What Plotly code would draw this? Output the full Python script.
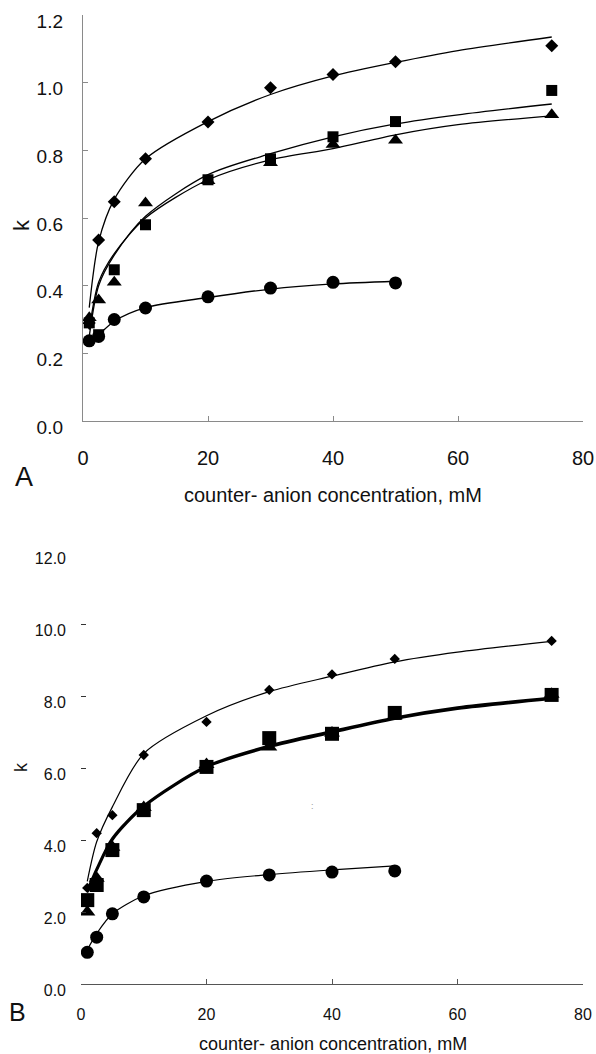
import plotly.graph_objects as go

W, H = 596, 1054

# ---------------- Panel A data ----------------
conc_A = [1, 2.5, 5, 10, 20, 30, 40, 50, 75]
conc_A_circ = [1, 2.5, 5, 10, 20, 30, 40, 50]
A_diamond = [0.29, 0.535, 0.648, 0.775, 0.884, 0.985, 1.024, 1.062, 1.109]
A_square = [0.29, 0.255, 0.447, 0.58, 0.713, 0.775, 0.84, 0.885, 0.977]
A_triangle = [0.305, 0.358, 0.41, 0.644, 0.71, 0.763, 0.817, 0.83, 0.905]
A_circle = [0.237, 0.25, 0.30, 0.334, 0.367, 0.393, 0.41, 0.408]

fit_x = [1, 2.5, 5, 10, 20, 30, 40, 50, 60, 75]
fit_x_circ = [1, 2.5, 5, 10, 20, 30, 40, 50]
A_fit_diamond = [0.335, 0.53, 0.655, 0.775, 0.885, 0.965, 1.02, 1.06, 1.095, 1.135]
A_fit_square = [0.25, 0.40, 0.49, 0.605, 0.728, 0.79, 0.84, 0.878, 0.905, 0.937]
A_fit_triangle = [0.27, 0.41, 0.495, 0.60, 0.713, 0.772, 0.805, 0.846, 0.876, 0.902]
A_fit_circle = [0.235, 0.255, 0.295, 0.335, 0.365, 0.39, 0.405, 0.413]

# ---------------- Panel B data ----------------
conc_B = [1, 2.5, 5, 10, 20, 30, 40, 50, 75]
conc_B_circ = [1, 2.5, 5, 10, 20, 30, 40, 50]
B_diamond = [2.67, 4.19, 4.69, 6.36, 7.28, 8.17, 8.6, 9.03, 9.53]
B_square = [2.33, 2.75, 3.72, 4.83, 6.03, 6.83, 6.95, 7.53, 8.03]
B_triangle = [2.0, 2.94, 3.8, 4.9, 6.1, 6.58, 6.97, 7.45, 8.05]
B_circle = [0.88, 1.3, 1.95, 2.42, 2.86, 3.03, 3.11, 3.14]

B_fit_diamond = [2.85, 3.95, 4.92, 6.4, 7.45, 8.12, 8.55, 8.95, 9.22, 9.52]
B_fit_square = [2.6, 3.2, 4.05, 4.95, 6.05, 6.62, 7.02, 7.4, 7.68, 7.95]
B_fit_triangle = [2.55, 3.15, 4.0, 4.92, 6.02, 6.58, 6.98, 7.36, 7.64, 7.92]
B_fit_circle = [0.95, 1.4, 1.95, 2.45, 2.85, 3.04, 3.17, 3.28]

x_ticks = [0, 20, 40, 60, 80]
A_y_ticks = [0.0, 0.2, 0.4, 0.6, 0.8, 1.0, 1.2]
B_y_ticks = [0.0, 2.0, 4.0, 6.0, 8.0, 10.0, 12.0]
x_title = "counter- anion concentration, mM"
y_title = "k"

FONT = "Liberation Sans, Arial, sans-serif"
INK = "#111111"


def px(x):
    return x / W


def py(y):
    return 1 - y / H


fig = go.Figure()


def line(x, y, xa, ya, w):
    fig.add_trace(go.Scatter(x=x, y=y, mode="lines", xaxis=xa, yaxis=ya,
                             line=dict(color="black", width=w, shape="spline", smoothing=0.8),
                             hoverinfo="skip", showlegend=False))


def pts(x, y, xa, ya, sym, size):
    fig.add_trace(go.Scatter(x=x, y=y, mode="markers", xaxis=xa, yaxis=ya,
                             marker=dict(symbol=sym, size=size, color="black", line=dict(width=0)),
                             showlegend=False))


# Panel A
line(fit_x, A_fit_diamond, "x", "y", 1.3)
line(fit_x, A_fit_square, "x", "y", 1.3)
line(fit_x, A_fit_triangle, "x", "y", 1.3)
line(fit_x_circ, A_fit_circle, "x", "y", 1.3)
pts(conc_A, A_square, "x", "y", "square", 11)
pts(conc_A, A_triangle, "x", "y", "triangle-up", 13)
pts(conc_A, A_diamond, "x", "y", "diamond", 10)
pts(conc_A_circ, A_circle, "x", "y", "circle", 13)

# Panel B
line(fit_x, B_fit_diamond, "x2", "y2", 1.2)
line(fit_x, B_fit_square, "x2", "y2", 2.4)
line(fit_x, B_fit_triangle, "x2", "y2", 2.2)
line(fit_x_circ, B_fit_circle, "x2", "y2", 1.2)
pts(conc_B, B_square, "x2", "y2", "square", 14)
pts(conc_B, B_triangle, "x2", "y2", "triangle-up", 14)
pts(conc_B, B_diamond, "x2", "y2", "diamond", 8)
pts(conc_B_circ, B_circle, "x2", "y2", "circle", 13)

common_x = dict(range=[0, 80], tickvals=x_ticks, ticktext=[str(v) for v in x_ticks],
                showgrid=False, zeroline=False, showline=True, ticks="inside", ticklen=5,
                fixedrange=True, automargin=False, ticklabeloverflow="allow")

fig.update_layout(
    width=W, height=H,
    margin=dict(l=0, r=0, t=0, b=0),
    paper_bgcolor="white", plot_bgcolor="white",
    font=dict(family=FONT, color=INK),
    hovermode=False,
    xaxis=dict(common_x, domain=[px(83), px(583)], anchor="y",
               linecolor="#8a8a8a", tickcolor="#8a8a8a", linewidth=1.2,
               tickfont=dict(size=20, color=INK), ticklabelstandoff=19),
    yaxis=dict(range=[0, 1.2], domain=[py(421), py(15)], anchor="x", automargin=False,
               tickvals=A_y_ticks, tickformat=".1f", ticklabeloverflow="allow", fixedrange=True,
               showgrid=False, zeroline=False, showline=True, linecolor="#8a8a8a", linewidth=1.2,
               ticks="inside", ticklen=5, tickcolor="#8a8a8a",
               tickfont=dict(size=19, color=INK), ticklabelstandoff=15, ticklabelshift=6),
    xaxis2=dict(common_x, domain=[px(81), px(583)], anchor="y2",
                linecolor="#555555", tickcolor="#555555", linewidth=1.2,
                tickfont=dict(size=16, color=INK), ticklabelstandoff=16),
    yaxis2=dict(range=[0, 12], domain=[py(984), py(552)], anchor="x2", automargin=False,
                tickvals=B_y_ticks, tickformat=".1f", ticklabeloverflow="allow", fixedrange=True,
                showgrid=False, zeroline=False, showline=False,
                ticks="inside", ticklen=5, tickcolor="#333333",
                tickfont=dict(size=16, color=INK), ticklabelstandoff=14, ticklabelshift=6),
)

ann = [
    dict(text=x_title, x=px(333), y=py(495), size=20),
    dict(text=x_title, x=px(333), y=py(1044), size=18),
    dict(text="A", x=px(24), y=py(477), size=27),
    dict(text="B", x=px(17), y=py(1012), size=25),
]
for a in ann:
    fig.add_annotation(text=a["text"], x=a["x"], y=a["y"], xref="paper", yref="paper",
                       showarrow=False, xanchor="center", yanchor="middle",
                       font=dict(family=FONT, size=a["size"], color=INK))
for (yy, sz) in [(225, 22), (767, 18)]:
    fig.add_annotation(text=y_title, x=px(21), y=py(yy), xref="paper", yref="paper",
                       showarrow=False, textangle=-90, xanchor="center", yanchor="middle",
                       font=dict(family=FONT, size=sz, color=INK))
fig.add_annotation(text=":", x=px(312), y=py(813), xref="paper", yref="paper",
                   showarrow=False, font=dict(family=FONT, size=9, color="#999999"))

fig.write_html(
    "out.html",
    config={"displayModeBar": False, "staticPlot": True},
    post_script="document.body.style.margin='0';document.body.style.padding='0';"
                "document.documentElement.style.overflow='hidden';",
)
